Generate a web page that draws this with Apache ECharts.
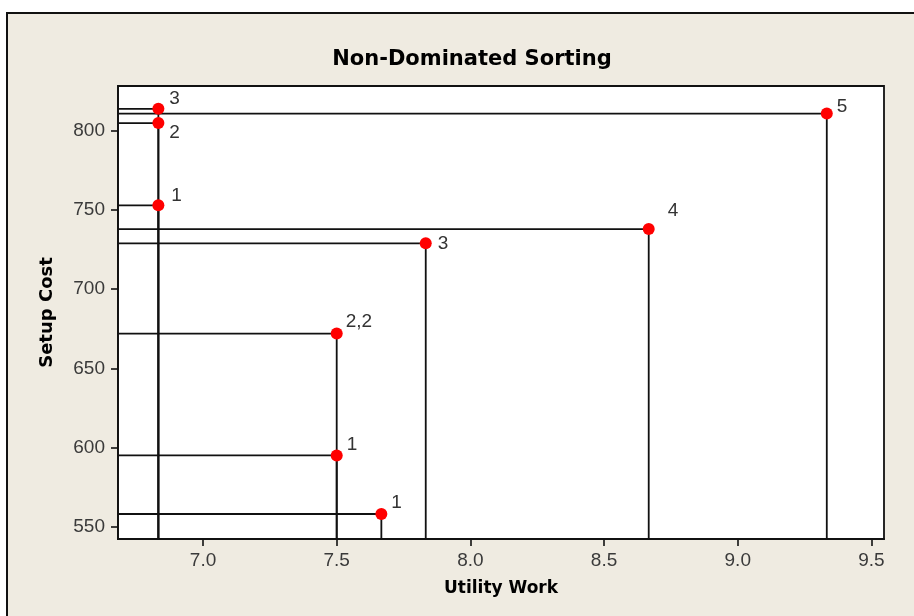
<!DOCTYPE html>
<html>
<head>
<meta charset="utf-8">
<title>Non-Dominated Sorting</title>
<script src="https://cdn.jsdelivr.net/npm/echarts@6/dist/echarts.min.js"></script>
<style>
  html, body { margin: 0; padding: 0; background: #fff; overflow: hidden; }
  #wrap { position: relative; width: 914px; height: 616px; overflow: hidden; }
  #frame {
    position: absolute; left: 6px; top: 12px; width: 940px; height: 640px;
    background: #efebe1; border-left: 2px solid #111; border-top: 2px solid #111;
  }
  #chart { position: absolute; left: 0; top: 0; width: 914px; height: 616px; }
</style>
</head>
<body>
<div id="wrap">
  <div id="frame"></div>
  <div id="chart"></div>
</div>
<script>
// Solutions: utility work vs. setup cost, with their front (rank) labels
const utilityWork = [6.833, 6.833, 6.833, 7.5, 7.5, 7.667, 7.833, 8.667, 9.333];
const setupCost   = [814, 805, 753, 672, 595, 558, 729, 738, 811];
const rankLabels  = ['3', '2', '1', '2,2', '1', '1', '3', '4', '5'];

// Tick positions
const xTicks = [7.0, 7.5, 8.0, 8.5, 9.0, 9.5];
const yTicks = [550, 600, 650, 700, 750, 800];

// Axis ranges
const X_MIN = 6.682, X_MAX = 9.547;
const Y_MIN = 542.2, Y_MAX = 828.4;

// Where each rank label sits relative to its marker centre (px)
const labelOffsets = [[11, -10], [11, 10], [13, -10], [9, -12], [10, -11], [10, -11], [12, 0], [19, -18], [10, -7]];

const chart = echarts.init(document.getElementById('chart'), null, { renderer: 'canvas' });

const LINE_COLOR = '#111';
const TEXT_FONT = 'Liberation Sans';
const BOLD_FONT = 'DejaVu Sans';

// Drop lines: from the left edge across to each point, then down to the bottom edge
const dropSeries = utilityWork.map((x, i) => ({
  type: 'line',
  data: [[X_MIN, setupCost[i]], [x, setupCost[i]], [x, Y_MIN]],
  symbol: 'none',
  silent: true,
  animation: false,
  z: 2,
  lineStyle: { color: LINE_COLOR, width: 1.8 }
}));

const pointSeries = {
  type: 'scatter',
  symbol: 'circle',
  symbolSize: 12,
  z: 5,
  animation: false,
  itemStyle: { color: '#ff0000', opacity: 1 },
  data: utilityWork.map((x, i) => ({
    value: [x, setupCost[i]],
    label: {
      show: true,
      formatter: rankLabels[i],
      position: [6 + labelOffsets[i][0], 6 + labelOffsets[i][1]],
      align: 'left',
      verticalAlign: 'middle',
      fontFamily: TEXT_FONT,
      fontSize: 19,
      color: '#333'
    }
  }))
};

chart.setOption({
  backgroundColor: 'transparent',
  animation: false,
  title: {
    text: 'Non-Dominated Sorting',
    left: 467,
    top: 44,
    textAlign: 'center',
    textStyle: { fontFamily: BOLD_FONT, fontWeight: 'bold', fontSize: 21, color: '#000' }
  },
  grid: {
    left: 118, right: 30, top: 86, bottom: 77,
    show: true,
    backgroundColor: '#fff',
    borderColor: LINE_COLOR,
    borderWidth: 1.8
  },
  xAxis: {
    type: 'value',
    min: X_MIN, max: X_MAX,
    splitLine: { show: false },
    axisLine: { show: true, lineStyle: { color: LINE_COLOR, width: 1.8 } },
    axisTick: { show: true, length: 7, customValues: xTicks, lineStyle: { color: LINE_COLOR, width: 1.6 } },
    axisLabel: {
      customValues: xTicks,
      formatter: v => v.toFixed(1),
      fontFamily: TEXT_FONT, fontSize: 19, color: '#3a3a3a', margin: 12
    },
    name: 'Utility Work',
    nameLocation: 'middle',
    nameGap: 41,
    nameTextStyle: { fontFamily: BOLD_FONT, fontWeight: 'bold', fontSize: 17, color: '#000' }
  },
  yAxis: {
    type: 'value',
    min: Y_MIN, max: Y_MAX,
    splitLine: { show: false },
    axisLine: { show: true, lineStyle: { color: LINE_COLOR, width: 1.8 } },
    axisTick: { show: true, length: 7, customValues: yTicks, lineStyle: { color: LINE_COLOR, width: 1.6 } },
    axisLabel: {
      customValues: yTicks,
      formatter: v => String(v),
      fontFamily: TEXT_FONT, fontSize: 19, color: '#3a3a3a', margin: 13
    },
    name: 'Setup Cost',
    nameLocation: 'middle',
    nameRotate: 90,
    nameGap: 62,
    nameTextStyle: { fontFamily: BOLD_FONT, fontWeight: 'bold', fontSize: 18, color: '#000' }
  },
  series: [...dropSeries, pointSeries]
});
</script>
</body>
</html>
